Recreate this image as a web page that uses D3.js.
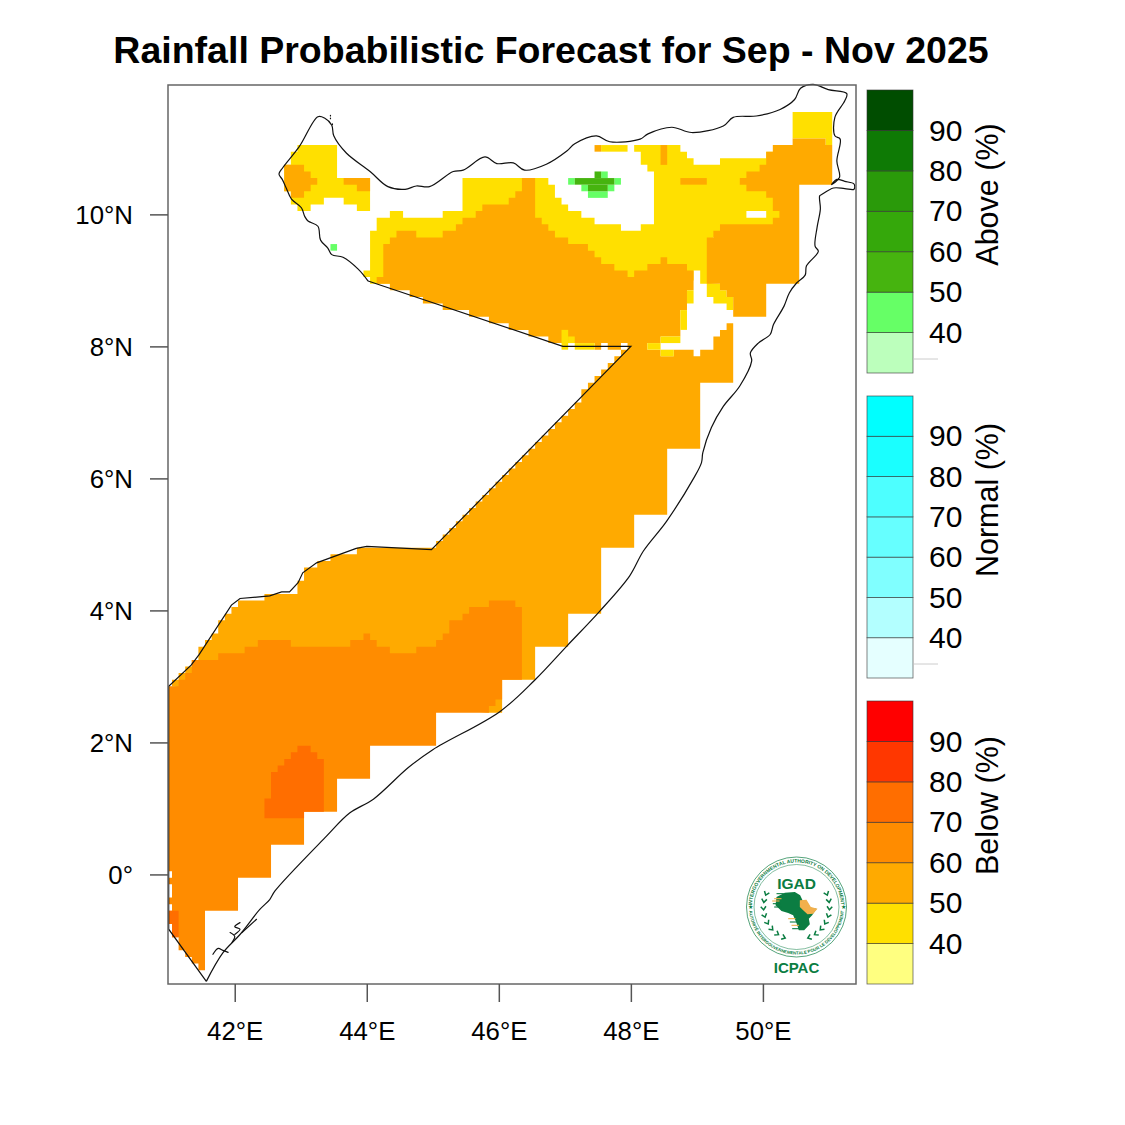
<!DOCTYPE html>
<html>
<head>
<meta charset="utf-8">
<script src="https://cdn.jsdelivr.net/npm/d3@7"></script>
<style>
  body { margin: 0; background: white; }
  text { font-family: "Liberation Sans", Arial, sans-serif; }
</style>
</head>
<body>
<svg class="container" width="1125" height="1125"></svg>
<script>
// axis ticks
const lonTicks = [42, 44, 46, 48, 50];
const latTicks = [0, 2, 4, 6, 8, 10];
const legendTicks = [40, 50, 60, 70, 80, 90];
const legendEdges = [30, 40, 50, 60, 70, 80, 90, 100];

// legend colours, lowest bin first
const aboveColors = ["#bcffbc", "#66ff66", "#46b40f", "#35a80b", "#2a9a0a", "#0e7a05", "#004d00"];
const normalColors = ["#e5ffff", "#b3ffff", "#80ffff", "#66ffff", "#4dffff", "#1affff", "#00ffff"];
const belowColors = ["#ffff80", "#ffe000", "#ffaa00", "#ff8c00", "#ff6e00", "#ff3700", "#ff0000"];

// forecast areas, [lon, lat] on the 0.1 degree grid
const yellowMain = [[43.95,9.05],[43.95,9.15],[44.05,9.15],[44.05,9.75],[44.15,9.75],[44.15,9.95],[44.35,9.95],[44.35,10.05],[44.55,10.05],[44.55,9.95],[45.15,9.95],[45.15,10.05],[45.45,10.05],[45.45,10.55],[46.75,10.55],[46.75,10.45],[46.85,10.45],[46.85,10.25],[46.95,10.25],[46.95,10.15],[47.05,10.15],[47.05,10.05],[47.25,10.05],[47.25,9.95],[47.45,9.95],[47.45,9.85],[47.85,9.85],[47.85,9.75],[48.15,9.75],[48.15,9.85],[48.35,9.85],[48.35,10.65],[48.25,10.65],[48.25,10.75],[48.15,10.75],[48.15,10.95],[48.05,10.95],[48.05,11.05],[48.75,11.05],[48.75,10.95],[48.85,10.95],[48.85,10.85],[48.95,10.85],[48.95,10.75],[49.35,10.75],[49.35,10.85],[50.05,10.85],[50.05,10.95],[50.3,10.95],[50.3,9.8],[49.4,9.8],[49.2,9.6],[49.2,8.96],[49.35,8.95],[49.35,8.85],[49.45,8.85],[49.45,8.75],[49.55,8.75],[49.55,8.55],[49.45,8.55],[49.45,8.65],[49.25,8.65],[49.25,8.75],[49.15,8.75],[49.15,8.95],[49.05,8.95],[49.05,9.15],[48.95,9.15],[48.95,9.0],[44.15,8.95],[44.05,8.95],[44.05,9.05]];
const yellowHole = [[49.75,9.95],[50.05,9.95],[50.05,10.05],[49.75,10.05]];
const yellowWest = [[42.95,11.05],[43.55,11.05],[43.55,10.55],[44.05,10.55],[44.05,10.05],[43.85,10.05],[43.85,10.15],[43.65,10.15],[43.65,10.25],[43.35,10.25],[43.35,10.15],[43.15,10.15],[43.15,10.05],[42.95,10.05],[42.95,10.15],[42.85,10.15],[42.85,10.35],[42.75,10.35],[42.75,10.75],[42.85,10.75],[42.85,10.95],[42.95,10.95]];
const yellowNorthEast = [[50.45,11.55],[51.05,11.55],[51.05,11.05],[50.95,11.05],[50.95,11.15],[50.45,11.15]];

const orangeBody = [[41,2.85],[41.05,2.85],[41.05,2.95],[41.15,2.95],[41.15,3.05],[41.25,3.05],[41.25,3.15],[41.35,3.15],[41.35,3.25],[41.45,3.25],[41.45,3.45],[41.55,3.45],[41.55,3.55],[41.65,3.55],[41.65,3.65],[41.75,3.65],[41.75,3.85],[41.85,3.85],[41.85,3.95],[41.95,3.95],[41.95,4.05],[42.05,4.05],[42.05,4.15],[42.45,4.15],[42.45,4.25],[42.95,4.25],[42.95,4.45],[43.05,4.45],[43.05,4.65],[43.25,4.65],[43.25,4.75],[43.45,4.75],[43.45,4.85],[43.85,4.85],[43.85,4.95],[45.05,4.95],
  [45.05,5.05],[45.15,5.05],[45.15,5.15],[45.25,5.15],[45.25,5.25],[45.35,5.25],[45.35,5.35],[45.45,5.35],[45.45,5.45],[45.55,5.45],[45.55,5.55],[45.65,5.55],[45.65,5.65],[45.75,5.65],[45.75,5.75],[45.85,5.75],[45.85,5.85],[45.95,5.85],[45.95,5.95],[46.05,5.95],[46.05,6.05],[46.15,6.05],[46.15,6.15],[46.25,6.15],[46.25,6.25],[46.35,6.25],[46.35,6.35],[46.45,6.35],[46.45,6.45],[46.55,6.45],[46.55,6.55],[46.65,6.55],[46.65,6.65],[46.75,6.65],[46.75,6.75],[46.85,6.75],[46.85,6.85],[46.95,6.85],[46.95,6.95],[47.05,6.95],[47.05,7.05],[47.15,7.05],[47.15,7.15],[47.25,7.15],[47.25,7.35],[47.35,7.35],[47.35,7.45],[47.45,7.45],[47.45,7.55],[47.55,7.55],[47.55,7.65],[47.65,7.65],[47.65,7.75],[47.75,7.75],[47.75,7.85],[47.85,7.85],[47.85,7.95],[47.95,7.95],[47.95,8.05],
  [47.85,8.05],[47.85,7.95],[47.65,7.95],[47.65,8.05],[47.55,8.05],[47.55,7.95],[47.45,7.95],[47.45,8.05],[46.75,8.05],[46.75,8.15],[46.45,8.15],[46.45,8.25],[46.15,8.25],[46.15,8.35],[45.85,8.35],[45.85,8.45],[45.55,8.45],[45.55,8.55],[45.15,8.55],[45.15,8.65],[44.85,8.65],[44.85,8.75],[44.65,8.75],[44.65,8.85],[44.35,8.85],[44.35,8.95],[44.15,8.95],[44.15,9.05],[44.25,9.05],
  [44.25,9.55],[44.35,9.55],[44.35,9.65],[44.45,9.65],[44.45,9.75],[44.75,9.75],[44.75,9.65],[45.15,9.65],[45.15,9.75],[45.35,9.75],[45.35,9.85],[45.45,9.85],[45.45,9.95],[45.65,9.95],[45.65,10.05],[45.75,10.05],[45.75,10.15],[46.15,10.15],[46.15,10.25],[46.25,10.25],[46.25,10.35],[46.35,10.35],[46.35,10.55],[46.55,10.55],[46.55,9.95],[46.65,9.95],[46.65,9.85],[46.75,9.85],[46.75,9.75],[46.85,9.75],[46.85,9.65],[47.05,9.65],[47.05,9.55],[47.35,9.55],[47.35,9.45],[47.45,9.45],[47.45,9.35],[47.55,9.35],[47.55,9.25],[47.75,9.25],[47.75,9.15],[47.95,9.15],[47.95,9.05],[48.05,9.05],[48.05,9.15],[48.25,9.15],[48.25,9.25],[48.45,9.25],[48.45,9.35],[48.55,9.35],[48.55,9.25],[48.85,9.25],[48.85,9.15],[48.95,9.15],
  [48.95,8.85],[48.85,8.85],[48.85,8.55],[48.75,8.55],[48.75,8.15],[48.45,8.15],[48.45,8.05],[48.25,8.05],[48.25,7.95],[48.45,7.95],[48.45,7.85],[48.65,7.85],[48.65,7.95],[48.95,7.95],[48.95,7.85],[49.05,7.85],[49.05,7.95],[49.25,7.95],[49.25,8.15],[49.35,8.15],[49.35,8.25],[49.45,8.25],[49.45,8.35],[49.55,8.35],
  [49.55,7.45],[49.05,7.45],[49.05,6.45],[48.55,6.45],[48.55,5.45],[48.05,5.45],[48.05,4.95],[47.55,4.95],[47.55,3.95],[47.05,3.95],[47.05,3.45],[46.55,3.45],[46.55,2.95],[46.05,2.95],[46.05,2.45],[45.85,2.45]];
const orangeNorthEast = [[50.15,11.05],[50.45,11.05],[50.45,11.15],[50.95,11.15],[50.95,11.05],[51.05,11.05],[51.05,10.45],[50.55,10.45],[50.55,8.95],[50.05,8.95],[50.05,8.45],[49.55,8.45],[49.55,8.75],[49.45,8.75],[49.45,8.85],[49.35,8.85],[49.35,8.95],[49.15,8.95],[49.15,9.65],[49.25,9.65],[49.25,9.75],[49.35,9.75],[49.35,9.85],[50.15,9.85],[50.15,9.95],[50.25,9.95],[50.25,10.05],[50.15,10.05],[50.15,10.25],[50.05,10.25],[50.05,10.35],[49.75,10.35],[49.75,10.45],[49.65,10.45],[49.65,10.55],[49.75,10.55],[49.75,10.65],[49.95,10.65],[49.95,10.75],[50.05,10.75],[50.05,10.95],[50.15,10.95]];
const orangeWest = [[42.75,10.75],[43.05,10.75],[43.05,10.65],[43.15,10.65],[43.15,10.55],[43.25,10.55],[43.25,10.45],[43.15,10.45],[43.15,10.35],[43.05,10.35],[43.05,10.25],[42.85,10.25],[42.85,10.35],[42.75,10.35]];
const orangeWest2 = [[43.65,10.55],[44.05,10.55],[44.05,10.35],[43.85,10.35],[43.85,10.45],[43.65,10.45]];

const darkOrange = [[41,2.85],[41.15,2.85],[41.15,2.95],[41.25,2.95],[41.25,3.05],[41.35,3.05],[41.35,3.25],[41.75,3.25],[41.75,3.35],[42.15,3.35],[42.15,3.45],[42.35,3.45],[42.35,3.55],[42.85,3.55],[42.85,3.45],[43.75,3.45],[43.75,3.55],[43.95,3.55],[43.95,3.65],[44.05,3.65],[44.05,3.55],[44.15,3.55],[44.15,3.45],[44.35,3.45],[44.35,3.35],[44.75,3.35],[44.75,3.45],[45.05,3.45],[45.05,3.55],[45.15,3.55],[45.15,3.65],[45.25,3.65],[45.25,3.85],[45.45,3.85],[45.45,3.95],[45.55,3.95],[45.55,4.05],[45.85,4.05],[45.85,4.15],[46.25,4.15],[46.25,4.05],[46.35,4.05],[46.35,2.95],[46.05,2.95],[46.05,2.65],[45.95,2.65],[45.95,2.55],[45.85,2.55],[45.85,2.45],[45.05,2.45],[45.05,1.95],[44.05,1.95],[44.05,1.45],[43.55,1.45],[43.55,0.95],[43.05,0.95],[43.05,0.45],[42.55,0.45],[42.55,-0.05],[42.05,-0.05],[42.05,-0.55],[41.55,-0.55],[41.55,-1.45],[41.45,-1.45],[41.45,-1.35],[41.35,-1.35],[41.35,-1.25],[41.25,-1.25],[41.25,-1.15],[41.15,-1.15],[41.15,-0.95],[41.05,-0.95],[41.05,-0.75],[41,-0.75],[41,-0.55],[41.05,-0.55],[41.05,-0.45],[41,-0.45],[41,-0.35],[41.05,-0.35],[41.05,-0.15],[41,-0.15],[41,-0.05],[41.05,-0.05],[41.05,0.05],[41,0.05]];
const redOrange = [[42.45,0.85],[43.05,0.85],[43.05,0.95],[43.35,0.95],[43.35,1.75],[43.25,1.75],[43.25,1.85],[43.15,1.85],[43.15,1.95],[42.95,1.95],[42.95,1.85],[42.85,1.85],[42.85,1.75],[42.75,1.75],[42.75,1.65],[42.65,1.65],[42.65,1.55],[42.55,1.55],[42.55,1.15],[42.45,1.15]];
const redOrangeSouth = [[41,-0.55],[41.15,-0.55],[41.15,-0.95],[41.05,-0.95],[41.05,-0.75],[41,-0.75]];

// single boxes: lonW, lonE, latS, latN
const yellowBoxes = [[46.95,47.05,7.95,8.25],[47.05,47.15,8.05,8.15],[47.15,47.45,7.95,8.05],[48.25,48.45,7.95,8.05],[48.45,48.75,8.05,8.15],[48.45,48.65,7.85,7.95],[48.85,48.95,8.65,8.85],[48.75,48.85,8.25,8.55],[47.55,47.95,10.95,11.05]];
const orangeBoxes = [[47.45,47.55,10.95,11.05],[48.45,48.55,10.75,11.05],[48.75,49.15,10.45,10.55]];
const lightGreenBoxes = [[43.45,43.55,9.45,9.55],[47.55,47.65,10.55,10.65],[47.05,47.15,10.45,10.55],[47.75,47.85,10.45,10.55],[47.25,47.35,10.35,10.45],[47.65,47.75,10.35,10.45],[47.35,47.65,10.25,10.35]];
const greenBoxes = [[47.45,47.55,10.55,10.65],[47.15,47.75,10.45,10.55],[47.35,47.65,10.35,10.45]];

// land borders and coast, [lon, lat]
const border = [[41.57,-1.62],[41,-0.83],[41,2.85],[41.34,3.17],[41.46,3.33],[41.95,4.08],[42.08,4.18],[42.53,4.22],[42.71,4.28],[42.83,4.28],[42.96,4.42],[43.03,4.57],[43.24,4.72],[43.84,4.94],[44,4.97],[44.98,4.92],[48,8],[46.97,8],[44.02,8.99]];
const coast = [[44.02,8.99],[43.87,9.17],[43.64,9.35],[43.47,9.39],[43.41,9.49],[43.3,9.61],[43.26,9.82],[43.11,9.9],[43.06,9.97],[43.01,10.1],[42.86,10.23],[42.78,10.4],[42.72,10.53],[42.67,10.61],[42.73,10.71],[42.98,11.03],[43.26,11.48],[43.36,11.46],[43.47,11.35],[43.5,11.19],[43.69,10.93],[44.05,10.65],[44.32,10.42],[44.58,10.38],[44.75,10.43],[44.95,10.42],[45.31,10.65],[45.46,10.67],[45.79,10.87],[45.97,10.77],[46.22,10.78],[46.39,10.67],[46.72,10.76],[47.03,10.96],[47.15,11.07],[47.48,11.19],[47.68,11.1],[48.14,11.14],[48.26,11.22],[48.62,11.32],[48.92,11.24],[49.4,11.34],[49.55,11.47],[49.9,11.49],[50.26,11.59],[50.48,11.74],[50.57,11.91],[50.76,11.97],[50.99,11.89],[51.27,11.83],[51.24,11.72],[51.09,11.47],[51.09,11.19],[51.17,11.14],[51.12,10.81],[51.16,10.56],[51.04,10.45],[51.12,10.53],[51.24,10.5],[51.38,10.46],[51.38,10.38],[51.24,10.39],[51.07,10.4],[50.89,10.3],[50.86,10.28],[50.87,10.08],[50.82,9.8],[50.79,9.52],[50.84,9.44],[50.66,9.22],[50.64,9.08],[50.51,8.96],[50.4,8.81],[50.32,8.61],[50.16,8.33],[50.11,8.18],[49.93,8.05],[49.81,7.9],[49.83,7.78],[49.65,7.4],[49.4,7.09],[49.22,6.77],[49.09,6.39],[49.07,6.24],[48.95,6],[48.54,5.35],[48.19,4.9],[47.98,4.52],[47.53,3.99],[47.03,3.46],[46.55,2.95],[46.02,2.47],[45,1.89],[44.63,1.62],[44.1,1.14],[43.74,0.93],[43.39,0.58],[42.61,-0.25],[42.53,-0.38],[42.38,-0.53],[42.08,-0.91],[41.82,-1.19],[41.57,-1.62]];
// small islands off the south coast and off Djibouti
const islands = [
  [[41.67,-1.21],[41.75,-1.12],[41.82,-1.15],[41.9,-1.18]],
  [[41.93,-0.88],[42,-0.94],[41.96,-1.03]],
  [[42.08,-0.73],[42,-0.79],[42.08,-0.83],[42,-0.91]],
  [[42.11,-0.88],[42.33,-0.68]],
  [[43.45,11.5],[43.45,11.49]],
  [[43.45,11.46],[43.45,11.45]],
  [[43.48,11.37],[43.48,11.36]]
];

const svg = d3.select(".container");

const xScale = d3.scaleLinear().domain([41, 51.41]).range([168.7, 856]);
const yScale = d3.scaleLinear().domain([-1.66, 11.96]).range([984, 85]);

const ring = d3.line().x(d => xScale(d[0])).y(d => yScale(d[1]));
const smooth = d3.line().x(d => xScale(d[0])).y(d => yScale(d[1])).curve(d3.curveCatmullRom.alpha(0.5));
const area = rings => rings.map(r => ring(r) + "Z").join("");

// Filled areas, painted lowest class first
const layers = [
  { rings: [yellowMain, yellowHole], fill: belowColors[1] },
  { rings: [yellowWest], fill: belowColors[1] },
  { rings: [yellowNorthEast], fill: belowColors[1] },
  { rings: [orangeBody], fill: belowColors[2] },
  { rings: [orangeNorthEast], fill: belowColors[2] },
  { rings: [orangeWest], fill: belowColors[2] },
  { rings: [orangeWest2], fill: belowColors[2] },
  { rings: [darkOrange], fill: belowColors[3] },
  { rings: [redOrange], fill: belowColors[4] },
  { rings: [redOrangeSouth], fill: belowColors[4] }
];
svg.selectAll(".layer")
  .data(layers)
  .join("path")
  .attr("class", "layer")
  .attr("d", d => area(d.rings))
  .attr("fill", d => d.fill)
  .attr("fill-rule", "evenodd");

const boxes = [
  { list: yellowBoxes, fill: belowColors[1] },
  { list: orangeBoxes, fill: belowColors[2] },
  { list: lightGreenBoxes, fill: aboveColors[1] },
  { list: greenBoxes, fill: aboveColors[2] }
];
boxes.forEach(b => {
  svg.append("g").selectAll("rect")
    .data(b.list)
    .join("rect")
    .attr("x", d => xScale(d[0]))
    .attr("width", d => xScale(d[1]) - xScale(d[0]))
    .attr("y", d => yScale(d[3]))
    .attr("height", d => yScale(d[2]) - yScale(d[3]))
    .attr("fill", b.fill);
});

// Country outline
svg.append("path")
  .attr("d", ring(border))
  .attr("fill", "none")
  .attr("stroke", "#111")
  .attr("stroke-width", 1.2);
svg.append("path")
  .attr("d", smooth(coast))
  .attr("fill", "none")
  .attr("stroke", "#111")
  .attr("stroke-width", 1.2);
svg.selectAll(".island")
  .data(islands)
  .join("path")
  .attr("class", "island")
  .attr("d", smooth)
  .attr("fill", "none")
  .attr("stroke", "#111")
  .attr("stroke-width", 1.2)
  .attr("stroke-linecap", "round");

// Frame and axes
svg.append("rect")
  .attr("x", 168).attr("y", 85)
  .attr("width", 688).attr("height", 899)
  .attr("fill", "none")
  .attr("stroke", "#666")
  .attr("stroke-width", 1.5);

const xAxis = svg.append("g")
  .attr("transform", "translate(0,984)")
  .call(d3.axisBottom(xScale).tickValues(lonTicks).tickSize(18).tickPadding(20).tickFormat(d => d + "°E"));
const yAxis = svg.append("g")
  .attr("transform", "translate(168,0)")
  .call(d3.axisLeft(yScale).tickValues(latTicks).tickSize(18).tickPadding(17).tickFormat(d => d === 0 ? "0°" : d + "°N"));
[xAxis, yAxis].forEach(a => {
  a.select(".domain").remove();
  a.selectAll("line").attr("stroke", "#555").attr("stroke-width", 1.5);
  a.selectAll("text").attr("font-size", 25.8).attr("fill", "#000").attr("font-family", "Liberation Sans");
});
yAxis.selectAll("text").attr("y", 1);

svg.append("text")
  .attr("x", 551).attr("y", 63)
  .attr("text-anchor", "middle")
  .attr("font-size", 37.5)
  .attr("font-weight", "bold")
  .text("Rainfall Probabilistic Forecast for Sep - Nov 2025");

// Colour bars
const legends = [
  { name: "Above (%)", colors: aboveColors, top: 90, bottom: 373, smudge: true },
  { name: "Normal (%)", colors: normalColors, top: 396, bottom: 678, smudge: true },
  { name: "Below (%)", colors: belowColors, top: 701, bottom: 984, smudge: false }
];
legends.forEach(l => {
  const scale = d3.scaleLinear().domain([30, 100]).range([l.bottom, l.top]);
  const g = svg.append("g");
  g.selectAll("rect")
    .data(l.colors)
    .join("rect")
    .attr("x", 867).attr("width", 46)
    .attr("y", (d, i) => scale(legendEdges[i + 1]))
    .attr("height", (d, i) => scale(legendEdges[i]) - scale(legendEdges[i + 1]))
    .attr("fill", d => d)
    .attr("stroke", "#333")
    .attr("stroke-opacity", 0.75)
    .attr("stroke-width", 0.8);
  const axis = g.append("g")
    .attr("transform", "translate(913,0)")
    .call(d3.axisRight(scale).tickValues(legendTicks).tickSize(0).tickPadding(16));
  axis.select(".domain").remove();
  axis.selectAll("text").attr("font-size", 30).attr("fill", "#000").attr("font-family", "Liberation Sans");
  g.append("text")
    .attr("transform", `translate(998,${(l.top + l.bottom) / 2 - 37}) rotate(-90)`)
    .attr("text-anchor", "middle")
    .attr("font-size", 30.5)
    .text(l.name);
  // faint smudge under the lowest bin label
  if (l.smudge) {
    g.append("line")
      .attr("x1", 914).attr("x2", 938)
      .attr("y1", l.bottom - 14).attr("y2", l.bottom - 14)
      .attr("stroke", "#ccc").attr("stroke-width", 1);
  }
});

// Logo
const logoGreen = "#0b7d42";
const logoGold = "#f2b04c";
const logo = svg.append("g").attr("transform", "translate(796.5,907)");
logo.append("circle").attr("r", 50).attr("fill", "white").attr("stroke", logoGreen).attr("stroke-width", 0.7);
logo.append("circle").attr("r", 42.5).attr("fill", "none").attr("stroke", logoGreen).attr("stroke-width", 0.5);
const defs = logo.append("defs");
defs.append("path").attr("id", "logoTop").attr("d", "M -44.5 0 A 44.5 44.5 0 0 1 44.5 0");
defs.append("path").attr("id", "logoBottom").attr("d", "M -47.5 0 A 47.5 47.5 0 0 0 47.5 0");
logo.append("text").attr("font-size", 5).attr("font-weight", "bold").attr("fill", logoGreen).attr("text-anchor", "middle")
  .append("textPath").attr("href", "#logoTop").attr("startOffset", "50%").text("INTERGOVERNMENTAL AUTHORITY ON DEVELOPMENT");
logo.append("text").attr("font-size", 4.3).attr("font-weight", "bold").attr("fill", logoGreen).attr("text-anchor", "middle")
  .append("textPath").attr("href", "#logoBottom").attr("startOffset", "50%").text("AUTORITÉ INTERGOUVERNEMENTALE POUR LE DÉVELOPPEMENT");
logo.selectAll(".star").data([-46.5, 46.5]).join("text").attr("class", "star")
  .attr("x", d => d).attr("y", 2).attr("text-anchor", "middle")
  .attr("font-size", 6).attr("fill", logoGreen).attr("font-family", "DejaVu Sans").text("★");
logo.append("text").attr("y", -18).attr("text-anchor", "middle").attr("font-size", 15.5)
  .attr("font-weight", "bold").attr("fill", logoGreen).text("IGAD");
logo.append("text").attr("y", 65.5).attr("text-anchor", "middle").attr("font-size", 15)
  .attr("font-weight", "bold").attr("fill", logoGreen).text("ICPAC");

const toLogo = p => [(p[0] - 185) / 3, (p[1] - 170) / 3];
const africa = [[125,140],[150,127],[180,125],[196,135],[203,150],[218,170],[245,175],[232,195],[222,205],[225,222],[208,240],[192,240],[185,218],[175,195],[160,188],[140,182],[122,165]].map(toLogo);
const horn = [[195,150],[215,148],[228,170],[248,175],[235,190],[218,192],[205,180],[195,170]].map(toLogo);
logo.append("path").attr("d", d3.line()(africa) + "Z").attr("fill", logoGreen);
logo.append("path").attr("d", d3.line()(horn) + "Z").attr("fill", logoGold);
[[118,145,logoGold],[112,152,logoGold],[114,160,logoGreen],[118,170,logoGreen],[125,130,logoGreen],[160,205,logoGold],[165,215,logoGreen],[170,225,logoGold],[172,235,logoGreen]].forEach(s => {
  const a = toLogo([s[0], s[1]]), b = toLogo([s[0] + 22, s[1]]);
  logo.append("line").attr("x1", a[0]).attr("y1", a[1]).attr("x2", b[0]).attr("y2", b[1])
    .attr("stroke", s[2]).attr("stroke-width", 1.1);
});
// wreath chevrons, walking up each side from the bottom
[-1, 1].forEach(side => {
  d3.range(20, 120, 13).forEach(t => {
    const rad = t * Math.PI / 180, r = 33;
    const cx = side * r * Math.sin(rad), cy = r * Math.cos(rad);
    logo.append("path")
      .attr("d", "M -2.6 -3.4 L 0 0 L 2.6 -3.4")
      .attr("transform", `translate(${cx},${cy}) rotate(${side < 0 ? t - 90 : 90 - t})`)
      .attr("fill", "none").attr("stroke", logoGreen).attr("stroke-width", 1.5);
  });
});
</script>
</body>
</html>
